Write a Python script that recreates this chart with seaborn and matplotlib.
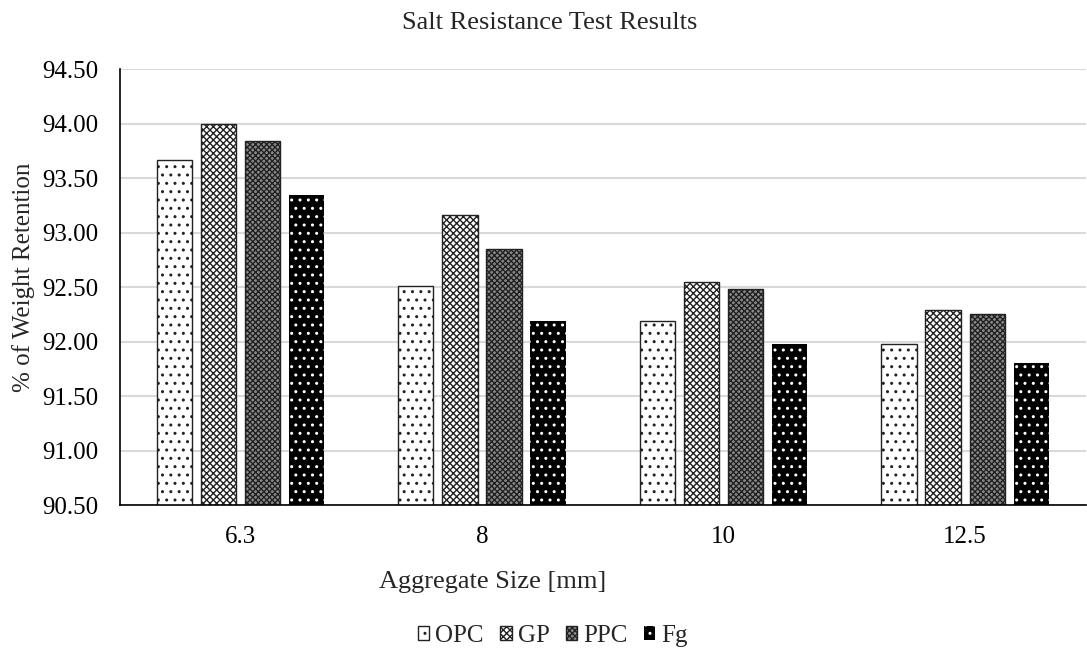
import matplotlib
matplotlib.use("Agg")
import matplotlib.pyplot as plt
import seaborn as sns
import pandas as pd
from matplotlib.ticker import FormatStrFormatter, MultipleLocator

sizes = ["6.3", "8", "10", "12.5"]
binders = ["OPC", "GP", "PPC", "Fg"]
opc = [93.67, 92.51, 92.19, 91.98]
gp = [94.00, 93.16, 92.55, 92.29]
ppc = [93.84, 92.85, 92.48, 92.25]
fg = [93.35, 92.19, 91.98, 91.80]

rows = []
for b, vals in zip(binders, [opc, gp, ppc, fg]):
    for s, v in zip(sizes, vals):
        rows.append({"Size": s, "Binder": b, "Value": v})
df = pd.DataFrame(rows)

sns.set_theme(style="white")
plt.rcParams["font.family"] = ["Liberation Serif", "DejaVu Serif"]
plt.rcParams["hatch.linewidth"] = 1.0

fig = plt.figure(figsize=(10.87, 6.53), dpi=100)
ax = fig.add_axes([0.110, 0.2266, 0.889, 0.6674])

sns.barplot(data=df, x="Size", y="Value", hue="Binder", order=sizes,
            hue_order=binders, palette=["white"] * 4, width=0.73, gap=0.2,
            ax=ax, legend=False, errorbar=None)

styles = [
    dict(face="white", edge="#222222", hatch="..", lw=1.0),
    dict(face="white", edge="#222222", hatch="xxxxx", lw=1.0),
    dict(face="#8a8a8a", edge="#222222", hatch="xxxxxx", lw=1.0),
    dict(face="black", edge="white", hatch="..", lw=0.0),
]
for cont, st in zip(ax.containers, styles):
    for p in cont.patches:
        p.set_facecolor(st["face"])
        p.set_edgecolor(st["edge"])
        p.set_hatch(st["hatch"])
        p.set_linewidth(st["lw"])

ax.set_ylim(90.5, 94.5)
ax.yaxis.set_major_locator(MultipleLocator(0.5))
ax.yaxis.set_major_formatter(FormatStrFormatter("%.2f"))
ax.set_xlim(-0.5, 3.5)
ax.grid(axis="y", color="#d9d9d9", linewidth=1.5)
ax.set_axisbelow(True)
for s in ["top", "right"]:
    ax.spines[s].set_visible(False)
for s in ["left", "bottom"]:
    ax.spines[s].set_color("black")
    ax.spines[s].set_linewidth(1.2)
ax.tick_params(axis="both", length=0, labelsize=18, colors="black", pad=15)
ax.set_xlabel("")
ax.set_ylabel("")

fig.text(550 / 1087, 1 - 23 / 653, "Salt Resistance Test Results", fontsize=19,
         ha="center", va="center")
fig.text(493 / 1087, 1 - 582 / 653, "Aggregate Size [mm]", fontsize=19,
         ha="center", va="center")
fig.text(24 / 1087, 1 - 277 / 653, "% of Weight Retention", fontsize=18,
         ha="center", va="center", rotation=90)

handles = [c.patches[0] for c in ax.containers]
fig.legend(handles, binders, loc="center", bbox_to_anchor=(553 / 1087, 1 - 636 / 653),
           ncol=4, frameon=False, fontsize=18, handlelength=0.45, handleheight=0.45,
           handletextpad=0.25, columnspacing=0.65)

fig.savefig("out.png", dpi=100)
